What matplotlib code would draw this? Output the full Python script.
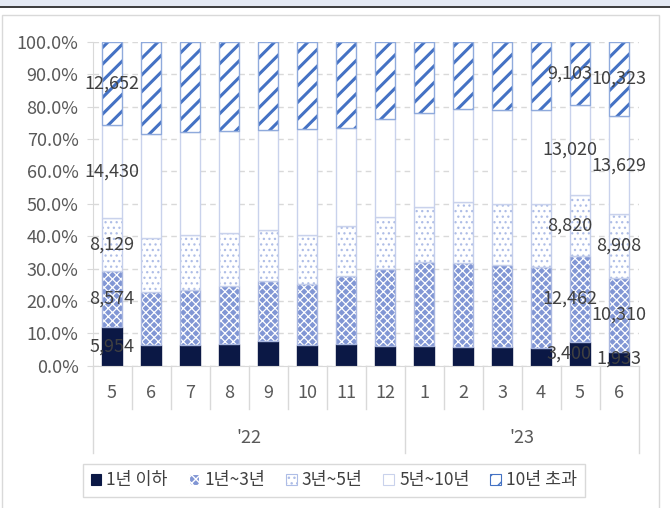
import numpy as np
import matplotlib
matplotlib.use("Agg")
import matplotlib.pyplot as plt
from matplotlib.patches import Rectangle, Patch
from matplotlib.lines import Line2D

plt.rcParams['font.family'] = ['Noto Sans CJK KR', 'DejaVu Sans']
plt.rcParams['font.weight'] = 'light'

months = ['5', '6', '7', '8', '9', '10', '11', '12', '1', '2', '3', '4', '5', '6']
years = ["'22", "'23"]
year_sizes = [8, 6]
series_names = ['1년 이하', '1년~3년', '3년~5년', '5년~10년', '10년 초과']

# share of each bucket (%)
under1 = [12.0, 6.4, 6.4, 6.8, 7.5, 6.3, 6.7, 6.2, 6.2, 5.8, 5.7, 5.4, 7.3, 4.3]
y1_3 = [17.2, 16.5, 17.0, 17.8, 18.7, 18.9, 21.1, 23.7, 25.7, 26.0, 25.5, 25.0, 26.6, 22.8]
y3_5 = [16.3, 16.5, 17.1, 16.3, 15.7, 15.1, 15.4, 16.1, 17.0, 18.7, 18.8, 19.6, 18.8, 19.7]
y5_10 = [29.0, 32.1, 31.6, 31.6, 30.9, 32.7, 30.1, 30.2, 29.3, 28.8, 29.0, 29.0, 27.8, 30.3]
over10 = [25.5, 28.5, 27.9, 27.5, 27.2, 27.0, 26.7, 23.8, 21.8, 20.7, 21.0, 21.0, 19.5, 22.9]

# counts shown as labels (bar index -> counts per bucket)
label_counts = {
    0: [5954, 8574, 8129, 14430, 12652],
    12: [3400, 12462, 8820, 13020, 9103],
    13: [1933, 10310, 8908, 13629, 10323],
}

W, H = 670, 508
fig = plt.figure(figsize=(W / 100, H / 100), dpi=100)

# page decoration
fig.add_artist(Rectangle((0, 1 - 6 / H), 1, 6 / H, transform=fig.transFigure,
                         color='#e4e9f3', lw=0))
fig.add_artist(Line2D([0, 1], [1 - 6.5 / H] * 2, transform=fig.transFigure,
                      color='#1a1a1a', lw=1.2))
fig.add_artist(Rectangle((2 / W, -0.01), 657 / W, (H - 15) / H + 0.01,
                         transform=fig.transFigure, fill=False,
                         edgecolor='#d9d9d9', lw=1))

left, right, top, bottom = 92.5, 638.5, 42, 365.7
ax = fig.add_axes([left / W, (H - bottom) / H, (right - left) / W, (bottom - top) / H])

x = np.arange(len(months))
styles = [
    # face, hatch, hatch colour, outline, hatch lw
    ('#0b1845', None, '#0b1845', '#0b1845', 1.0),
    ('#8196d4', 'xxxx', 'white', '#a9b7e0', 0.9),
    ('white', '...', '#aebde6', '#c5cfeb', 0.9),
    ('white', None, 'white', '#c9d2ec', 1.0),
    ('white', '//', '#4472c4', '#8faadc', 2.2),
]
data = [under1, y1_3, y3_5, y5_10, over10]

base = np.zeros(len(months))
handles = []
for vals, (face, hatch, hcol, edge, hlw), name in zip(data, styles, series_names):
    vals = np.array(vals)
    with plt.rc_context({'hatch.linewidth': hlw}):
        ax.bar(x, vals, 0.5, bottom=base, color=face, edgecolor=hcol, hatch=hatch, lw=0)
        handles.append(Patch(facecolor=face, edgecolor=hcol if hatch else edge,
                             hatch=hatch, lw=0.8, label=name))
    ax.bar(x, vals, 0.5, bottom=base, fill=False, edgecolor=edge, lw=1)
    base = base + vals

# data labels
cum = np.cumsum(np.array(data), axis=0)
for i, counts in label_counts.items():
    shift = -0.27 if i == 12 else 0.0
    for k, c in enumerate(counts):
        lo = cum[k - 1][i] if k > 0 else 0
        mid = (lo + cum[k][i]) / 2
        ax.text(i + shift, mid, f'{c:,}', ha='center', va='center',
                fontsize=13, color='#404040')

ax.set_xlim(-0.5, len(months) - 0.5)
ax.set_ylim(0, 100)
ax.set_yticks(np.arange(0, 101, 10))
ax.set_yticklabels([f'{v:.1f}%' for v in range(0, 101, 10)])
ax.tick_params(axis='y', length=4, color='#d9d9d9', pad=6, labelsize=13,
               labelcolor='#595959')
ax.set_xticks([])
ax.yaxis.grid(True, ls=(0, (4, 3)), color='#d9d9d9', lw=1)
ax.set_axisbelow(True)
for s in ['top', 'right']:
    ax.spines[s].set_visible(False)
for s in ['left', 'bottom']:
    ax.spines[s].set_color('#d9d9d9')

# two-level category axis
tr = ax.get_xaxis_transform()
def fy(py):
    return (bottom - py) / (bottom - top)

for i, m in enumerate(months):
    ax.text(i, fy(393), m, transform=tr, ha='center', va='center',
            fontsize=13, color='#595959')
bounds = [-0.5]
for n in year_sizes:
    bounds.append(bounds[-1] + n)
for b in np.arange(-0.5, len(months), 1.0):
    end = fy(453) if b in bounds else fy(409)
    ax.add_line(Line2D([b, b], [0, end], transform=tr, color='#d9d9d9',
                       lw=1, clip_on=False))
for j, yl in enumerate(years):
    ax.text((bounds[j] + bounds[j + 1]) / 2, fy(438), yl, transform=tr,
            ha='center', va='center', fontsize=13, color='#595959')

leg = fig.legend(handles=handles, loc='center', ncol=5,
                 bbox_to_anchor=(334 / W, 1 - 480.5 / H), fontsize=12.5,
                 handlelength=0.6, handleheight=0.6, handletextpad=0.3,
                 columnspacing=1.2, borderpad=0.45, fancybox=False,
                 edgecolor='#d9d9d9', framealpha=1)
leg.get_frame().set_linewidth(1)
for t in leg.get_texts():
    t.set_color('#404040')

fig.savefig('out.png', dpi=100)
